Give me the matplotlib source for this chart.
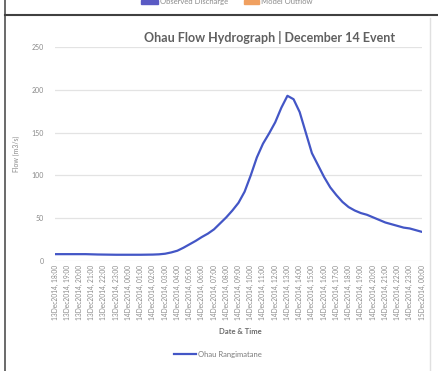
import matplotlib
matplotlib.use("Agg")
import matplotlib.pyplot as plt
from matplotlib.lines import Line2D
from matplotlib.patches import Rectangle

# Half-hourly discharge readings, hours after 13 Dec 2014 18:00
hours = [i * 0.5 for i in range(61)]
flow = [8, 8, 8, 8, 8, 8, 7.8, 7.6, 7.5, 7.4,
        7.3, 7.3, 7.3, 7.3, 7.3, 7.4, 7.5, 7.8, 8.5, 10,
        12, 15.5, 19.5, 23.5, 28, 32, 37, 44, 51, 59,
        68, 81, 100, 121, 137, 149, 162, 179, 193, 189,
        174, 150, 126, 112, 98, 86, 77, 69, 63, 59,
        56, 54, 51, 48, 45, 43, 41, 39, 38, 36, 34]

# Hourly category labels
tick_labels = (["13Dec2014, %02d:00" % h for h in range(18, 24)]
               + ["14Dec2014, %02d:00" % h for h in range(0, 24)]
               + ["15Dec2014, 00:00"])
y_ticks = [0, 50, 100, 150, 200, 250]

series_name = "Ohau Rangimatane"
title = "Ohau Flow Hydrograph | December 14 Event"

font = ["Lato", "DejaVu Sans"]
line_color = "#4356c6"

W, H = 438, 371
fig = plt.figure(figsize=(W / 100, H / 100), dpi=100)
fig.patch.set_facecolor("white")

def fx(px):
    return px / W

def fy(py):
    return 1 - py / H

ax = fig.add_axes([fx(55), fy(261), fx(422) - fx(55), fy(47) - fy(261)])
ax.plot(hours, flow, color=line_color, lw=1.6, solid_capstyle="round",
        solid_joinstyle="round")
ax.set_xlim(0, 30)
ax.set_ylim(0, 250)
ax.set_yticks(y_ticks)
ax.set_yticklabels([str(v) for v in y_ticks], fontsize=5, color="#8a8a8a", family=font)
ax.set_xticks(range(len(tick_labels)))
ax.set_xticklabels(tick_labels, rotation=90, fontsize=4.8, color="#8a8a8a", family=font)
ax.tick_params(axis="both", length=0, pad=8)
ax.tick_params(axis="x", pad=3)
for s in ax.spines.values():
    s.set_visible(False)
ax.grid(axis="y", color="#e3e3e3", lw=0.9)
ax.grid(axis="x", visible=False)
ax.set_axisbelow(True)
ax.set_ylabel("Flow (m3/s)", fontsize=5, color="#8a8a8a", family=font, labelpad=8)

fig.text(fx(270), fy(38), title, ha="center", va="center", fontsize=9,
         color="#606060", family=font, fontweight="bold")
fig.text(fx(240), fy(332), "Date & Time", ha="center", va="center", fontsize=5.5,
         color="#6a6a6a", family=font, fontweight="bold")

# bottom legend
fig.add_artist(Line2D([fx(174), fx(196)], [fy(354), fy(354)], color=line_color, lw=1.6))
fig.text(fx(198), fy(354), series_name, ha="left", va="center", fontsize=5.5,
         color="#7a7a7a", family=font)

# partial legend strip at the very top
fig.add_artist(Rectangle((fx(141), fy(4)), fx(17), fy(0) - fy(4), color="#5a5ac4",
                         transform=fig.transFigure))
fig.text(fx(160), fy(1.5), "Observed Discharge", ha="left", va="center", fontsize=5.5,
         color="#8a8a8a", family=font)
fig.add_artist(Rectangle((fx(244), fy(4)), fx(15), fy(0) - fy(4), color="#f0a060",
                         transform=fig.transFigure))
fig.text(fx(261), fy(1.5), "Model Outflow", ha="left", va="center", fontsize=5.5,
         color="#8a8a8a", family=font)

# page frame lines
fig.add_artist(Line2D([fx(5), fx(5)], [fy(0), fy(371)], color="#505050", lw=1.2))
fig.add_artist(Line2D([fx(5), fx(438)], [fy(15), fy(15)], color="#404040", lw=1.5))
fig.add_artist(Line2D([fx(430), fx(430)], [fy(18), fy(371)], color="#e0e0e0", lw=1.0))

fig.savefig("out.png", dpi=100, facecolor="white")
